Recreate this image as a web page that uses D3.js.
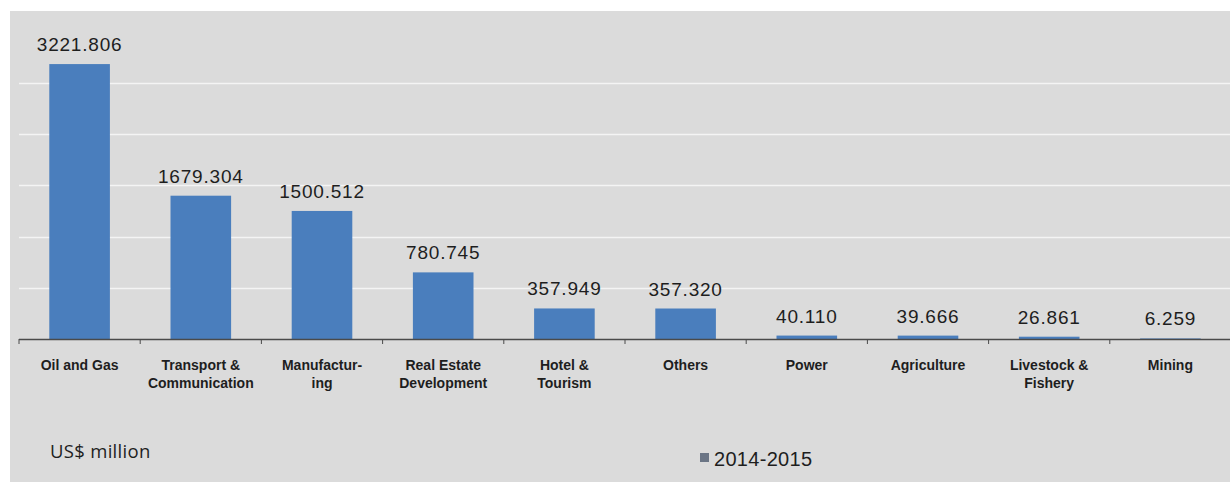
<!DOCTYPE html>
<html>
<head>
<meta charset="utf-8">
<script src="https://cdn.jsdelivr.net/npm/d3@7"></script>
<style>
  html, body { margin: 0; padding: 0; background: #ffffff; }
  svg { display: block; }
  .sans { font-family: "Liberation Sans", Arial, Helvetica, sans-serif; }
</style>
</head>
<body>
<svg id="chart" width="1230" height="482"></svg>
<script>
// Investment by sector, 2014-2015 (US$ million)
const categories = [
  ["Oil and Gas"],
  ["Transport &", "Communication"],
  ["Manufactur-", "ing"],
  ["Real Estate", "Development"],
  ["Hotel &", "Tourism"],
  ["Others"],
  ["Power"],
  ["Agriculture"],
  ["Livestock &", "Fishery"],
  ["Mining"]
];
const values = [3221.806, 1679.304, 1500.512, 780.745, 357.949, 357.320, 40.110, 39.666, 26.861, 6.259];
const gridTicks = [0, 600, 1200, 1800, 2400, 3000];
const seriesName = "2014-2015";
const unitLabel = "US$ million";

const svg = d3.select("#chart");
const W = 1230, H = 482;

// panel background
svg.append("rect")
  .attr("x", 10).attr("y", 11)
  .attr("width", W - 10).attr("height", H - 11)
  .attr("fill", "#dbdbdb");

const x0 = 19, x1 = 1231, baseY = 339;
const labels = categories.map(c => c.join(" "));

const x = d3.scaleBand()
  .domain(labels)
  .range([x0, x1])
  .paddingInner(0.5)
  .paddingOuter(0.25);

const y = d3.scaleLinear()
  .domain([0, 3600])
  .range([baseY, baseY - 3600 * (51.2 / 600)]);

// horizontal gridlines
svg.append("g")
  .selectAll("line")
  .data(gridTicks.filter(t => t > 0))
  .join("line")
  .attr("x1", x0).attr("x2", W)
  .attr("y1", d => Math.round(y(d)) + 0.5)
  .attr("y2", d => Math.round(y(d)) + 0.5)
  .attr("stroke", "#f4f4f4")
  .attr("stroke-width", 1.5);

// bars
svg.append("g")
  .selectAll("rect")
  .data(values)
  .join("rect")
  .attr("x", (d, i) => x(labels[i]))
  .attr("y", d => y(d))
  .attr("width", x.bandwidth())
  .attr("height", d => Math.max(0, y(0) - y(d)))
  .attr("fill", "#4a7ebd");

// value labels
svg.append("g")
  .selectAll("text")
  .data(values)
  .join("text")
  .attr("class", "sans")
  .attr("x", (d, i) => x(labels[i]) + x.bandwidth() / 2)
  .attr("y", d => y(d) - 13)
  .attr("text-anchor", "middle")
  .attr("font-size", 19)
  .attr("letter-spacing", 0.8)
  .attr("fill", "#1e1e1e")
  .text(d => d.toFixed(3));

// category axis
const xAxis = svg.append("g");
xAxis.append("line")
  .attr("x1", x0).attr("x2", W)
  .attr("y1", baseY + 0.5).attr("y2", baseY + 0.5)
  .attr("stroke", "#4a4a4a")
  .attr("stroke-width", 1.5);

const step = x.step();
const tickXs = d3.range(categories.length + 1).map(i => x0 + i * step);
xAxis.selectAll("line.tick")
  .data(tickXs)
  .join("line")
  .attr("class", "tick")
  .attr("x1", d => d).attr("x2", d => d)
  .attr("y1", baseY).attr("y2", baseY + 5)
  .attr("stroke", "#4a4a4a")
  .attr("stroke-width", 1);

const catText = xAxis.selectAll("text")
  .data(categories)
  .join("text")
  .attr("class", "sans")
  .attr("x", (d, i) => x(labels[i]) + x.bandwidth() / 2)
  .attr("y", 370)
  .attr("text-anchor", "middle")
  .attr("font-weight", "bold")
  .attr("font-size", 14)
  .attr("fill", "#1e1e1e");

catText.each(function(d) {
  const t = d3.select(this);
  d.forEach((line, j) => {
    t.append("tspan")
      .attr("x", t.attr("x"))
      .attr("dy", j === 0 ? 0 : 17.5)
      .text(line);
  });
});

// unit label
svg.append("text")
  .attr("x", 50).attr("y", 458)
  .attr("font-family", "'Open Sans', sans-serif")
  .attr("font-size", 18.5)
  .attr("letter-spacing", 0.3)
  .attr("fill", "#1e1e1e")
  .text(unitLabel);

// legend
const legend = svg.append("g");
legend.append("rect")
  .attr("x", 700).attr("y", 453)
  .attr("width", 9).attr("height", 9)
  .attr("fill", "#6b7585");
legend.append("text")
  .attr("class", "sans")
  .attr("x", 714).attr("y", 466)
  .attr("font-size", 20)
  .attr("letter-spacing", 0.3)
  .attr("fill", "#1e1e1e")
  .text(seriesName);
</script>
</body>
</html>
